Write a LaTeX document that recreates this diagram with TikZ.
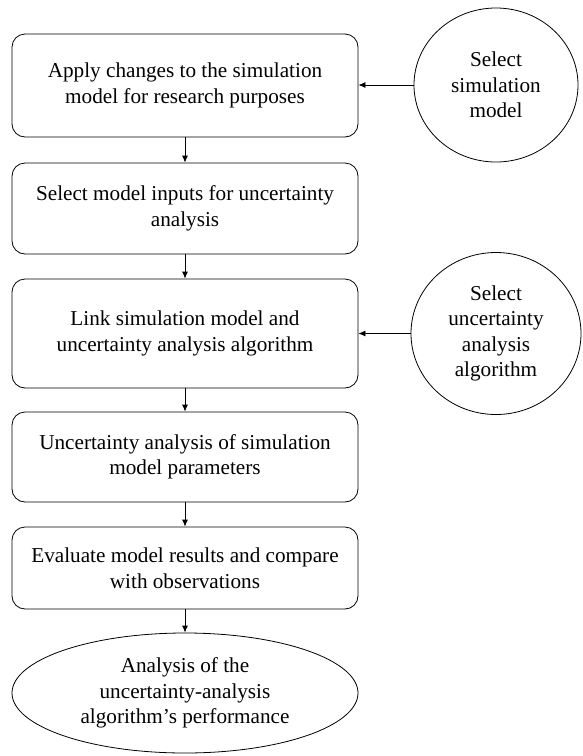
\documentclass[tikz,border=0pt]{standalone}
\usepackage{fontspec}
\setmainfont{Liberation Serif}
\usetikzlibrary{shapes.geometric,arrows.meta}
\begin{document}
\begin{tikzpicture}[x=1pt,y=-1pt,
  txt/.style={font=\fontsize{21.2}{25.5}\selectfont, align=center, inner sep=0pt},
  box/.style={txt, draw, rounded corners=13pt, minimum width=346pt, line width=0.8pt},
  oval/.style={txt, draw, ellipse, line width=0.8pt},
  arr/.style={-{Latex[length=7pt,width=6pt]}, line width=0.8pt}]
\useasboundingbox (0,0) rectangle (583,756);
\node[box, minimum height=103pt] (b1) at (185,85.5) {Apply changes to the simulation\\model for research purposes};
\node[box, minimum height=91pt] (b2) at (185,208.5) {Select model inputs for uncertainty\\analysis};
\node[box, minimum height=109pt] (b3) at (185,333.5) {Link simulation model and\\uncertainty analysis algorithm};
\node[box, minimum height=90pt] (b4) at (185,457) {Uncertainty analysis of simulation\\model parameters};
\node[box, minimum height=82pt] (b5) at (185,568) {Evaluate model results and compare\\with observations};
\node[oval, minimum width=346pt, minimum height=120pt] (e) at (185,693) {Analysis of the\\uncertainty-analysis\\algorithm's performance};
\node[oval, minimum width=164pt, minimum height=154pt] (c1) at (496,85) {Select\\simulation\\model};
\node[oval, minimum width=170pt, minimum height=162pt] (c2) at (496,333.5) {Select\\uncertainty\\analysis\\algorithm};
\draw[arr] (b1) -- (b2);
\draw[arr] (b2) -- (b3);
\draw[arr] (b3) -- (b4);
\draw[arr] (b4) -- (b5);
\draw[arr] (b5) -- (e);
\draw[arr] (c1.west) -- (c1.west -| b1.east);
\draw[arr] (c2.west) -- (c2.west -| b3.east);
\end{tikzpicture}
\end{document}
